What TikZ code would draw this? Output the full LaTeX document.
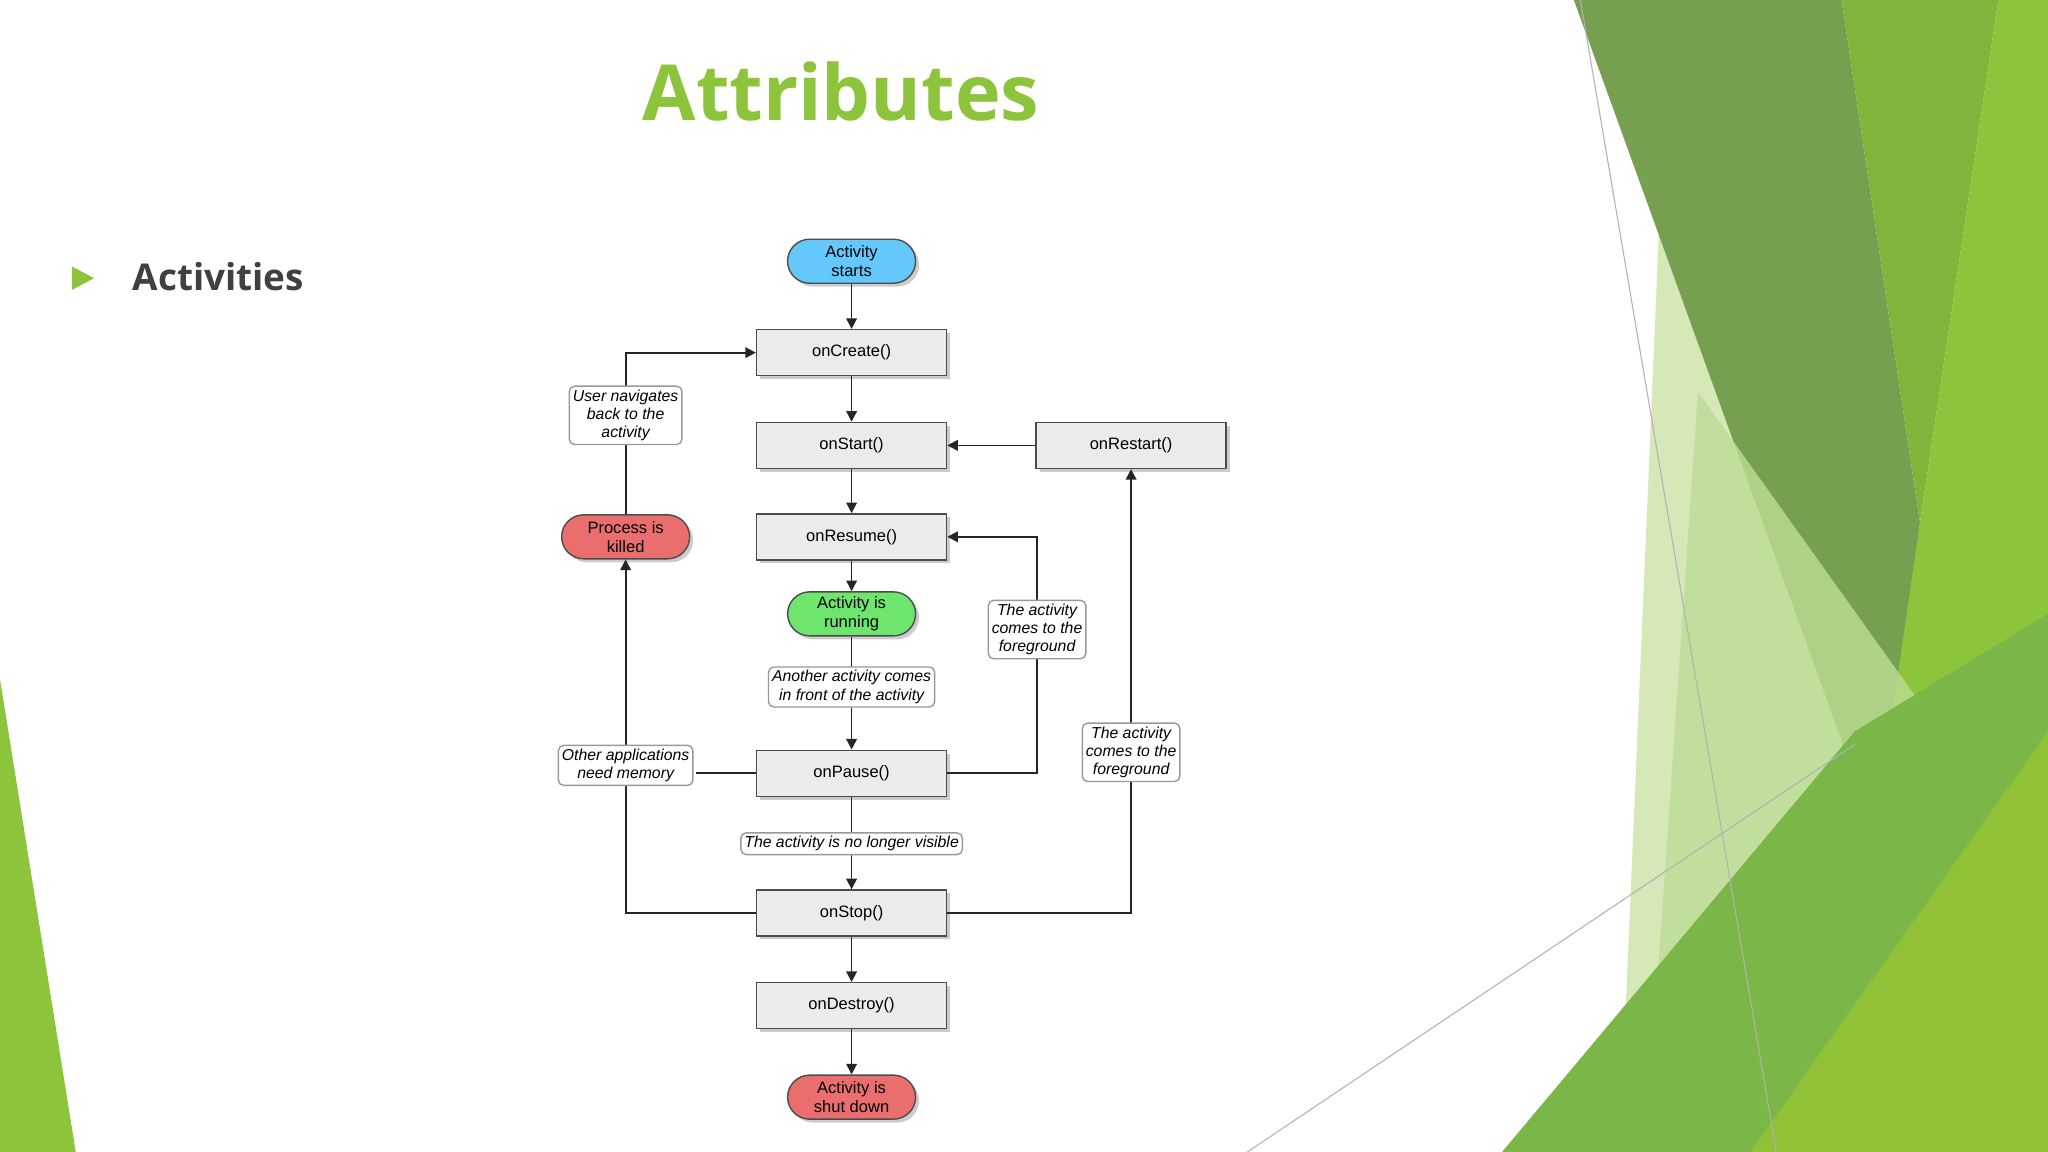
\documentclass[tikz,border=0pt]{standalone}
\usepackage{fontspec}
\setmainfont{Liberation Sans}
\newfontfamily\titlefont{Open Sans}
\usetikzlibrary{arrows.meta,shadows}
\definecolor{gA}{RGB}{118,160,79}
\definecolor{gB}{RGB}{127,181,58}
\definecolor{gC}{RGB}{140,196,60}
\definecolor{gL}{RGB}{214,232,184}
\definecolor{gM}{RGB}{190,220,150}
\definecolor{gD}{RGB}{122,182,72}
\definecolor{gE}{RGB}{150,196,50}
\begin{document}
\begin{tikzpicture}[x=0.01306cm,y=-0.01306cm,
  fs/.style={font=\fontsize{4.7}{5.4}\selectfont},
  lbox/.style={draw=black!70,fill=black!8,fs,minimum width=1.9cm,minimum height=0.46cm,inner sep=0pt,drop shadow={opacity=0.4,shadow xshift=1pt,shadow yshift=-1pt}},
  pill/.style={draw=black!70,rounded corners=0.22cm,minimum width=1.28cm,minimum height=0.44cm,inner sep=0pt,align=center,fs,drop shadow={opacity=0.4,shadow xshift=1pt,shadow yshift=-1pt}},
  note/.style={draw=black!40,fill=white,rounded corners=1.5pt,align=center,inner sep=1pt,font=\fontsize{4.5}{5.2}\selectfont\itshape},
  arr/.style={-{Triangle[length=3pt,width=3pt]},black!85,line width=0.5pt},
  ln/.style={black!85,line width=0.5pt}]
\useasboundingbox (0,0) rectangle (1568,882);
\fill[white] (0,0) rectangle (1568,882);
% background decoration
\fill[gL] (1270,180) -- (1420,580) -- (1330,882) -- (1240,882) -- cycle;
\fill[gA] (1205,0) -- (1410,0) -- (1470,400) -- (1440,650) -- cycle;
\fill[gB] (1410,0) -- (1530,0) -- (1470,400) -- cycle;
\fill[gC] (1530,0) -- (1568,0) -- (1568,882) -- (1400,882) -- (1470,400) -- cycle;
\fill[gM,opacity=0.8] (1300,300) -- (1500,580) -- (1420,882) -- (1260,882) -- cycle;
\fill[gD] (1150,882) -- (1420,560) -- (1568,470) -- (1568,882) -- cycle;
\fill[gE,opacity=0.8] (1340,882) -- (1568,560) -- (1568,882) -- cycle;
\fill[gC] (0,520) -- (58,882) -- (0,882) -- cycle;
\draw[black!30,line width=0.3pt] (1210,0) -- (1360,882);
\draw[black!30,line width=0.3pt] (955,882) -- (1420,570);
% title
\node[font=\titlefont\bfseries\fontsize{22}{26}\selectfont,text=gC] (title) at (644,70) {Attributes};
\fill[gC] (55,204) -- (72,213) -- (55,222) -- cycle;
\node[font=\titlefont\bfseries\fontsize{10.5}{12}\selectfont,text=black!75,anchor=west] (act) at (92,212) {Activities};
% nodes
\node[pill,fill={rgb,255:red,100;green,200;blue,250}] (start) at (652,200) {Activity\\starts};
\node[lbox] (create) at (652,270) {onCreate()};
\node[lbox] (ostart) at (652,341) {onStart()};
\node[lbox] (restart) at (866,341) {onRestart()};
\node[lbox] (resume) at (652,411) {onResume()};
\node[pill,fill={rgb,255:red,110;green,230;blue,110}] (run) at (652,470) {Activity is\\running};
\node[lbox] (pause) at (652,592) {onPause()};
\node[lbox] (stop) at (652,699) {onStop()};
\node[lbox] (destroy) at (652,770) {onDestroy()};
\node[pill,fill={rgb,255:red,235;green,110;blue,110}] (shut) at (652,840) {Activity is\\shut down};
\node[pill,fill={rgb,255:red,235;green,110;blue,110}] (killed) at (479,411) {Process is\\killed};
% connectors
\draw[arr] (start) -- (create);
\draw[arr] (create) -- (ostart);
\draw[arr] (ostart) -- (resume);
\draw[arr] (resume) -- (run);
\draw[arr] (run) -- (pause);
\draw[arr] (pause) -- (stop);
\draw[arr] (stop) -- (destroy);
\draw[arr] (destroy) -- (shut);
\draw[arr] (restart) -- (ostart);
\draw[arr] (stop.west) -| (killed.south);
\draw[arr] (killed.north) |- (create.west);
\draw[arr] (pause.east) -- (794,592) |- (resume.east);
\draw[arr] (stop.east) -| (restart.south);
\draw[ln] (pause.west) -- (533,592);
% notes
\node[note] (n1) at (479,318) {User navigates\\back to the\\activity};
\node[note] (n2) at (652,526) {Another activity comes\\in front of the activity};
\node[note] (n3) at (652,646) {The activity is no longer visible};
\node[note] (n4) at (479,586) {Other applications\\need memory};
\node[note] (n5) at (794,482) {The activity\\comes to the\\foreground};
\node[note] (n6) at (866,576) {The activity\\comes to the\\foreground};
\end{tikzpicture}
\end{document}
